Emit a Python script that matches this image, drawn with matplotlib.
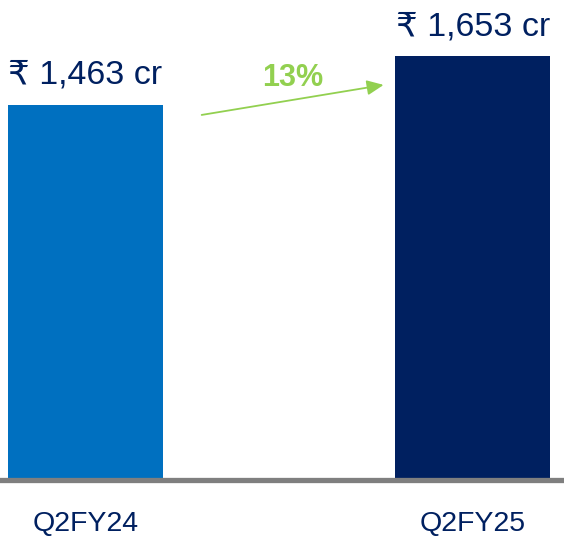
import matplotlib
matplotlib.use('Agg')
import matplotlib.pyplot as plt

# data
categories = ['Q2FY24', 'Q2FY25']
values = [1463, 1653]
value_labels = ['\u20b9 1,463 cr', '\u20b9 1,653 cr']
growth_label = '13%'

bar_colors = ['#0070C0', '#002060']
text_color = '#002060'
green = '#92D050'

plt.rcParams['font.family'] = ['Liberation Sans', 'DejaVu Sans']

fig = plt.figure(figsize=(5.64, 5.41), dpi=100)
ax = fig.add_axes([0, 61 / 541, 1, 480 / 541])

x = list(range(len(categories)))
ax.bar(x, values, width=0.40, color=bar_colors)

ax.set_xlim(-0.221, 1.236)
ax.set_ylim(0, 1871)

# value labels above bars
for xi, v, lab in zip(x, values, value_labels):
    ax.annotate(lab, (xi, v), xytext=(0, 10), textcoords='offset points',
                ha='center', va='bottom', fontsize=24.5, color=text_color)

# growth arrow
ax.annotate('', xy=(0.77, 1540), xytext=(0.30, 1423),
            arrowprops=dict(arrowstyle='-|>,head_length=1.0,head_width=0.45',
                            color=green, lw=1.3, shrinkA=0, shrinkB=0))
ax.text(0.535, 1567, growth_label, ha='center', va='center', fontsize=22,
        fontweight='bold', color=green)

# axes styling
for s in ['top', 'right', 'left']:
    ax.spines[s].set_visible(False)
ax.spines['bottom'].set_color('#7F7F7F')
ax.spines['bottom'].set_linewidth(3.8)
ax.set_yticks([])
ax.set_xticks(x)
ax.set_xticklabels(categories, fontsize=20.5, color=text_color)
ax.tick_params(axis='x', length=0, pad=22)

fig.savefig('out.png', dpi=100)
